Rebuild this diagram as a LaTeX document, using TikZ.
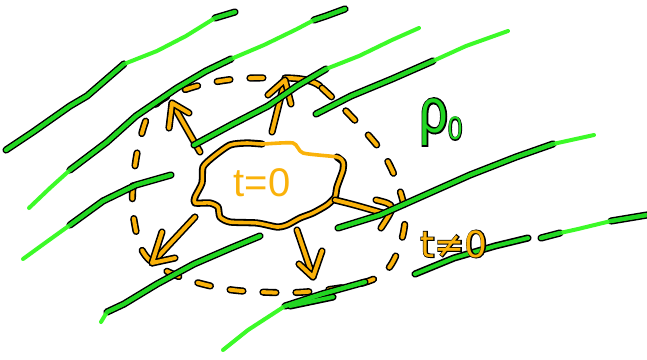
\documentclass[tikz,border=0pt]{standalone}
\usepackage{fontspec}
\setmainfont{Liberation Sans}
\newfontfamily\djv{DejaVu Sans}
\newfontfamily\djvfat[FakeBold=5]{DejaVu Sans}
\newfontfamily\libfat[FakeBold=5]{Liberation Sans}
\definecolor{grn}{RGB}{34,214,34}
\definecolor{lgrn}{RGB}{60,250,40}
\definecolor{orng}{RGB}{250,178,10}
\tikzset{
  ol/.style={draw=black,line width=7.2pt,line cap=round,line join=round},
  gline/.style={draw=lgrn,line width=4pt,line cap=round,line join=round},
  gdark/.style={draw=grn,line width=4pt,line cap=round,line join=round},
  ostroke/.style={draw=orng,line width=4pt,line cap=round,line join=round,
     preaction={draw=black,line width=7.2pt,line cap=round,line join=round}},
  odash/.style={draw=orng,line width=4pt,line cap=round,dash pattern=on 13pt off 20pt,
     preaction={draw=black,line width=7.2pt,line cap=round,dash pattern=on 13pt off 20pt}},
}
\begin{document}
\begin{tikzpicture}[x=1pt,y=-1pt]
\useasboundingbox[fill=white] (0,0) rectangle (647,359);

% ---- dashed ring around the blob
\draw[ostroke] (285,78) .. controls (300,78) and (312,80) .. (320,86);
\draw[odash] plot[smooth,tension=0.6] coordinates {(322,88) (340,105) (362,128) (384,155) (398,185) (405,215) (400,245) (385,272) (355,285) (305,292) (260,292) (220,288) (175,275) (145,255) (134,220) (133,185) (140,140) (155,105) (190,88) (235,79) (280,78)};

% ---- blob
\draw[ol] plot[smooth,tension=0.4] coordinates {(337,157) (343,162) (343,170) (337,187) (335,197) (327,205) (313,213) (300,218) (287,225) (277,227) (257,223) (230,222) (220,217) (218,207) (210,203) (195,203) (195,197) (202,183) (203,167) (213,157) (230,145) (247,143) (262,144)};
\draw[draw=orng,line width=3.6pt,line cap=round,line join=round] plot[smooth cycle,tension=0.4] coordinates {(230,145) (247,143) (262,144) (293,143) (303,153) (337,157) (343,162) (343,170) (337,187) (335,197) (327,205) (313,213) (300,218) (287,225) (277,227) (257,223) (230,222) (220,217) (218,207) (210,203) (195,203) (195,197) (202,183) (203,167) (213,157)};
\node[text=orng,font=\fontsize{40}{40}\selectfont] (t0) at (262,183) {t=0};

% ---- arrows
\coordinate (ula) at (200,152); \coordinate (ulb) at (172,103);
\draw[ostroke] (ula) -- (ulb);
\draw[ostroke] (189,113) -- (ulb) -- (169,128);
\coordinate (upa) at (272,132); \coordinate (upb) at (285,80);
\draw[ostroke] (upa) -- (upb);
\draw[ostroke] (268,95) -- (upb) -- (291,104);
\coordinate (ra) at (335,200); \coordinate (rb) at (386,214);
\draw[ostroke] (ra) .. controls (355,205) .. (rb);
\draw[ostroke] (376,200) .. controls (396,205) .. (381,228);
\coordinate (dla) at (195,217); \coordinate (dlb) at (152,263);
\draw[ostroke] (dla) -- (dlb);
\draw[ostroke] (162,232) -- (dlb) -- (175,258);
\coordinate (da) at (297,230); \coordinate (db) at (313,277);
\draw[ostroke] (da) -- (db);
\draw[ostroke] (299,264) -- (db) -- (322,251);

% ---- green field lines (dark part outlined in black)
% L1
\draw[ol] (6,150) -- (33,132) -- (70,106) -- (87,96) -- (124,64);
\draw[ol] (215,18) -- (235,12);
\draw[gline] (6,150) -- (33,132) -- (70,106) -- (87,96) -- (124,64) -- (157,51) -- (186,36) -- (215,18) -- (235,12);
\draw[gdark] (6,150) -- (33,132) -- (70,106) -- (87,96) -- (124,64);
\draw[gdark] (215,18) -- (235,12);
% L2
\draw[ol] (70,170) -- (107,142) -- (136,116) -- (177,88) -- (206,71) -- (231,59);
\draw[ol] (314,20) -- (326,16) -- (345,9);
\draw[gline] (29,208) -- (50,188) -- (70,170) -- (107,142) -- (136,116) -- (177,88) -- (206,71) -- (231,59) -- (264,45) -- (297,29) -- (314,20) -- (326,16) -- (345,9);
\draw[gdark] (70,170) -- (107,142) -- (136,116) -- (177,88) -- (206,71) -- (231,59);
\draw[gdark] (314,20) -- (326,16) -- (345,9);
% L3
\draw[ol] (194,145) -- (231,125) -- (268,106) -- (297,86) -- (326,69);
\draw[gline] (194,145) -- (231,125) -- (268,106) -- (297,86) -- (326,69) -- (359,56) -- (392,40) -- (419,28);
\draw[gdark] (194,145) -- (231,125) -- (268,106) -- (297,86) -- (326,69);
% L4
\draw[ol] (316,114) -- (351,96) -- (392,79) -- (433,61);
\draw[gline] (316,114) -- (351,96) -- (392,79) -- (433,61) -- (466,46) -- (508,31);
\draw[gdark] (316,114) -- (351,96) -- (392,79) -- (433,61);
% L5
\draw[ol] (70,225) -- (103,201) -- (136,185) -- (171,175);
\draw[gline] (23,259) -- (45,243) -- (70,225) -- (103,201) -- (136,185) -- (171,175);
\draw[gdark] (70,225) -- (103,201) -- (136,185) -- (171,175);
% L6
\draw[ol] (107,312) -- (124,304) -- (157,284) -- (194,264) -- (231,248) -- (260,236);
\draw[gline] (101,322) -- (107,312) -- (124,304) -- (157,284) -- (194,264) -- (231,248) -- (260,236);
\draw[gdark] (107,312) -- (124,304) -- (157,284) -- (194,264) -- (231,248) -- (260,236);
% L7
\draw[ol] (338,228) -- (380,215) -- (425,195) -- (470,175) -- (516,157) -- (553,144);
\draw[gline] (338,228) -- (380,215) -- (425,195) -- (470,175) -- (516,157) -- (553,144) -- (594,135);
\draw[gdark] (338,228) -- (380,215) -- (425,195) -- (470,175) -- (516,157) -- (553,144);
% L8
\draw[ol] (415,274) -- (454,258) -- (495,246) -- (528,238);
\draw[ol] (541,238) -- (560,233);
\draw[ol] (611,221) -- (647,215);
\draw[gdark] (415,274) -- (454,258) -- (495,246) -- (528,238);
\draw[gline] (541,238) -- (560,233) -- (578,229) -- (611,221) -- (647,215);
\draw[gdark] (541,238) -- (560,233);
\draw[gdark] (611,221) -- (647,215);
% L9
\draw[ol] (285,306) -- (322,294) -- (365,282);
\draw[ol] (290,306) -- (333,297);
\draw[gline] (223,350) -- (248,330) -- (285,306) -- (322,294) -- (365,282);
\draw[gdark] (285,306) -- (322,294) -- (365,282);
\draw[gdark] (290,306) -- (333,297);

% ---- labels (black halo behind, colour on top)
\node[text=black,font=\libfat\fontsize{50}{50}\selectfont, yscale=1.25] (rhoo) at (441,122) {ρ\raisebox{-0.12em}{\fontsize{26}{26}\selectfont 0}};
\node[text=grn,font=\fontsize{50}{50}\selectfont, yscale=1.25] (rho) at (441,122) {ρ\raisebox{-0.12em}{\fontsize{26}{26}\selectfont 0}};
\node[text=black,font=\djvfat\fontsize{36}{36}\selectfont] (tn0o) at (454,244) {t≠0};
\node[text=orng,font=\djv\fontsize{36}{36}\selectfont] (tn0) at (454,244) {t≠0};
\end{tikzpicture}
\end{document}
